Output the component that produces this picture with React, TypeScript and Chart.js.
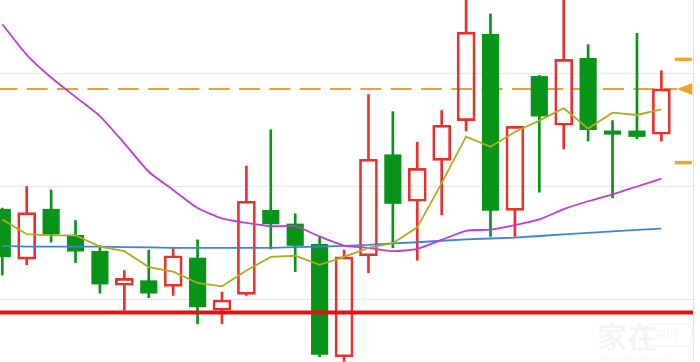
import React, { useEffect, useRef } from "react";
import { Chart, registerables } from "chart.js";

Chart.register(...registerables);

// ---- Data ----
const opens = [8.80, 8.36, 8.80, 8.57, 8.43, 8.13, 8.17, 8.12, 8.37, 7.91, 8.05, 8.79, 8.67, 8.49, 7.50, 8.39, 9.28, 8.87, 9.23, 9.58, 10.34, 8.79, 9.97, 9.54, 10.13, 9.49, 9.49, 9.46];
const highs = [8.81, 9.00, 8.97, 8.70, 8.48, 8.26, 8.44, 8.46, 8.53, 8.07, 9.18, 9.50, 8.76, 8.56, 8.44, 9.81, 9.66, 9.39, 9.67, 10.70, 10.52, 9.53, 9.98, 10.70, 10.25, 9.58, 10.35, 10.02];
const lows = [8.22, 8.31, 8.51, 8.33, 8.06, 7.91, 8.02, 8.04, 7.79, 7.79, 8.04, 8.45, 8.25, 7.50, 7.46, 8.24, 8.46, 8.35, 8.75, 9.49, 8.56, 8.56, 8.95, 9.33, 9.40, 8.90, 9.42, 9.40];
const closes = [8.38, 8.77, 8.58, 8.43, 8.14, 8.19, 8.06, 8.39, 7.94, 8.00, 8.87, 8.67, 8.48, 7.52, 8.38, 9.24, 8.85, 9.16, 9.54, 10.36, 8.79, 9.53, 9.62, 10.12, 9.50, 9.46, 9.44, 9.86];

const ma5 = [8.71, 8.58, 8.57, 8.57, 8.47, 8.43, 8.29, 8.25, 8.15, 8.12, 8.26, 8.38, 8.39, 8.31, 8.38, 8.46, 8.50, 8.64, 9.03, 9.44, 9.35, 9.48, 9.58, 9.69, 9.51, 9.65, 9.63, 9.68];
const ma20 = [10.43, 10.16, 9.96, 9.79, 9.62, 9.38, 9.13, 8.97, 8.81, 8.72, 8.68, 8.65, 8.65, 8.56, 8.48, 8.46, 8.43, 8.45, 8.53, 8.61, 8.62, 8.66, 8.71, 8.80, 8.87, 8.93, 9.00, 9.07];
const ma60 = [8.476, 8.47, 8.47, 8.47, 8.47, 8.465, 8.463, 8.46, 8.46, 8.46, 8.46, 8.46, 8.465, 8.47, 8.477, 8.485, 8.498, 8.509, 8.522, 8.535, 8.542, 8.549, 8.564, 8.579, 8.592, 8.605, 8.617, 8.628];

const gridLevels = [8, 9, 10];
const lastPrice = 9.86;
const upperMark = 10.12;
const lowerMark = 9.21;
const supportLevel = 7.89;

// axis domain
const X_MIN = -0.094;
const X_MAX = 28.296;
const Y_MIN = 7.4537;
const Y_MAX = 10.6432;
const MARK_X = 27.9;

const RED = "#e8312c";
const GREEN = "#079418";
const ORANGE = "#efa32c";

const pts = (arr: number[]) => arr.map((v, i) => ({ x: i, y: v }));

const markerPlugin = {
  id: "markerPlugin",
  afterDatasetsDraw(chart: any) {
    const { ctx } = chart;
    const xs = chart.scales.x;
    const ys = chart.scales.y;
    const cx = xs.getPixelForValue(MARK_X);
    const cy = ys.getPixelForValue(lastPrice);
    ctx.save();
    ctx.fillStyle = ORANGE;
    ctx.beginPath();
    ctx.moveTo(cx - 6.5, cy);
    ctx.lineTo(cx + 9, cy - 6);
    ctx.lineTo(cx + 9, cy + 6);
    ctx.closePath();
    ctx.fill();
    ctx.restore();
  },
  afterDraw(chart: any) {
    const { ctx, width, height } = chart;
    ctx.save();
    ctx.fillStyle = "rgba(0,0,0,0.045)";
    ctx.strokeStyle = "rgba(0,0,0,0.045)";
    ctx.font = "bold 30px 'Noto Sans CJK SC'";
    ctx.textBaseline = "alphabetic";
    ctx.fillText("家在", width - 103, height - 14);
    ctx.lineWidth = 1.5;
    ctx.beginPath();
    ctx.roundRect(width - 56, height - 38, 48, 22, 8);
    ctx.stroke();
    ctx.font = "12px 'Noto Sans CJK SC'";
    ctx.fillText("深圳", width - 46, height - 22);
    ctx.font = "9px 'DejaVu Sans'";
    ctx.fillText("bbs.szhome.com", width - 100, height - 2);
    ctx.restore();
  },
};

export default function App() {
  const ref = useRef<HTMLCanvasElement | null>(null);

  useEffect(() => {
    if (!ref.current) return;
    const up = opens.map((o, i) => closes[i] >= o);
    const upBodies = opens
      .map((o, i) => ({ x: i, y: [o, closes[i]] }))
      .filter((_, i) => up[i]);
    const downBodies = opens
      .map((o, i) => ({ x: i, y: [o, closes[i]] }))
      .filter((_, i) => !up[i]);
    const upperWicks = highs.map((h, i) => ({ x: i, y: [Math.max(opens[i], closes[i]), h] }));
    const lowerWicks = lows.map((l, i) => ({ x: i, y: [l, Math.min(opens[i], closes[i])] }));
    const wickColors = opens.map((o, i) => (closes[i] >= o ? RED : GREEN));

    const chart = new Chart(ref.current, {
      type: "bar",
      data: {
        datasets: [
          {
            type: "line",
            label: "MA5",
            data: pts(ma5),
            borderColor: "#b3aa1f",
            borderWidth: 1.8,
            pointRadius: 0,
            tension: 0,
            order: 0,
          } as any,
          {
            type: "line",
            label: "MA20",
            data: pts(ma20),
            borderColor: "#c03cd3",
            borderWidth: 1.8,
            pointRadius: 0,
            tension: 0.2,
            order: 0,
          } as any,
          {
            type: "line",
            label: "MA60",
            data: pts(ma60),
            borderColor: "#3d84d8",
            borderWidth: 1.8,
            pointRadius: 0,
            tension: 0,
            order: 0,
          } as any,
          {
            type: "line",
            label: "support",
            data: [
              { x: X_MIN, y: supportLevel },
              { x: X_MAX, y: supportLevel },
            ],
            borderColor: "#e8100c",
            borderWidth: 4,
            pointRadius: 0,
            order: 0,
          } as any,
          {
            type: "line",
            label: "marks",
            data: [
              { x: MARK_X, y: upperMark },
              { x: MARK_X, y: lowerMark },
            ],
            showLine: false,
            pointStyle: "line",
            pointRadius: 8.5,
            borderWidth: 3.5,
            borderColor: ORANGE,
            order: 0,
          } as any,
          {
            label: "up",
            data: upBodies as any,
            backgroundColor: "rgba(255,255,255,0)",
            borderColor: RED,
            borderWidth: 2,
            borderSkipped: false,
            barThickness: 18,
            grouped: false,
            order: 1,
          } as any,
          {
            label: "down",
            data: downBodies as any,
            backgroundColor: GREEN,
            borderColor: GREEN,
            borderWidth: 0,
            borderSkipped: false,
            barThickness: 16.5,
            grouped: false,
            order: 1,
          } as any,
          {
            label: "upperWicks",
            data: upperWicks as any,
            backgroundColor: wickColors,
            borderWidth: 0,
            barThickness: 2,
            grouped: false,
            order: 2,
          } as any,
          {
            label: "lowerWicks",
            data: lowerWicks as any,
            backgroundColor: wickColors,
            borderWidth: 0,
            barThickness: 2,
            grouped: false,
            order: 2,
          } as any,
          {
            type: "line",
            label: "last",
            data: [
              { x: X_MIN, y: lastPrice },
              { x: MARK_X - 0.25, y: lastPrice },
            ],
            borderColor: ORANGE,
            borderWidth: 2,
            borderDash: [21, 9.33],
            borderDashOffset: 3.6,
            pointRadius: 0,
            order: 3,
          } as any,
        ],
      },
      options: {
        animation: false,
        responsive: false,
        maintainAspectRatio: false,
        layout: { autoPadding: false, padding: { left: 0, right: 7, top: 0, bottom: 0 } },
        plugins: { legend: { display: false }, tooltip: { enabled: false } },
        scales: {
          x: {
            type: "linear",
            display: false,
            min: X_MIN,
            max: X_MAX,
            offset: false,
          },
          y: {
            type: "linear",
            position: "right",
            min: Y_MIN,
            max: Y_MAX,
            afterBuildTicks: (axis: any) => {
              axis.ticks = gridLevels.map((v) => ({ value: v }));
            },
            ticks: { display: false },
            grid: { color: "#e7e7e7", lineWidth: 1, drawTicks: false },
            border: { display: true, color: "#e4e4e4", width: 1 },
          },
        },
      } as any,
      plugins: [markerPlugin],
    });
    return () => chart.destroy();
  }, []);

  return (
    <div style={{ position: "fixed", left: 0, top: 0, width: 700, height: 362, background: "#fff" }}>
      <canvas ref={ref} width={700} height={362} style={{ display: "block", width: 700, height: 362 }} />
    </div>
  );
}
